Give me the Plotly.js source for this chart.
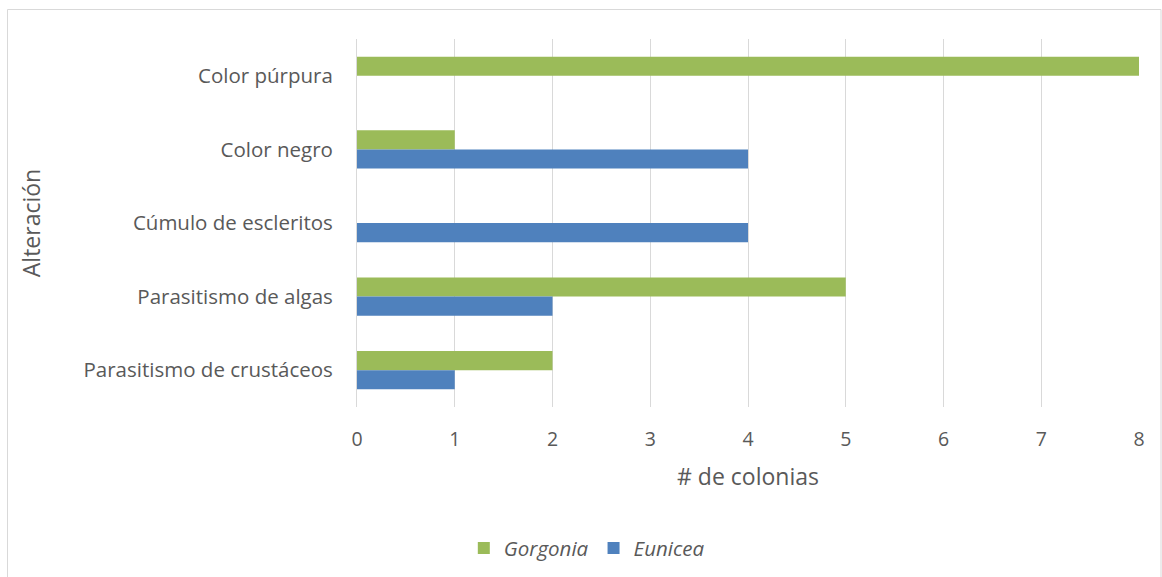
<!DOCTYPE html>
<html>
<head>
<meta charset="utf-8">
<script src="https://cdn.plot.ly/plotly-3.0.1.min.js"></script>
<style>
  html, body { margin: 0; padding: 0; background: #fff; }
  #chart { width: 1162px; height: 577px; }
</style>
</head>
<body>
<div id="chart"></div>
<script>
const categories = ["Color púrpura", "Color negro", "Cúmulo de escleritos", "Parasitismo de algas", "Parasitismo de crustáceos"];
const gorgonia = [8, 1, 0, 5, 2];
const eunicea = [0, 4, 4, 2, 1];
const xTicks = [0, 1, 2, 3, 4, 5, 6, 7, 8];

const W = 1162, H = 577;
const M = { l: 357, r: 23, t: 39, b: 170 };
const pw = W - M.l - M.r, ph = H - M.t - M.b;
const px = v => (v - M.l) / pw;
const py = v => (H - M.b - v) / ph;

const font = "'Open Sans', 'Noto Sans', sans-serif";
const textColor = "#595959";

const traces = [
  { type: "bar", orientation: "h", name: "<i>Gorgonia</i>", y: categories, x: gorgonia,
    marker: { color: "#9BBB59" }, hoverinfo: "x+y" },
  { type: "bar", orientation: "h", name: "<i>Eunicea</i>", y: categories, x: eunicea,
    marker: { color: "#4F81BD" }, hoverinfo: "x+y" }
];

const layout = {
  width: W, height: H,
  margin: M,
  paper_bgcolor: "#fff", plot_bgcolor: "#fff",
  font: { family: font, color: textColor, size: 17 },
  barmode: "group",
  bargap: 0.48,
  bargroupgap: 0,
  showlegend: true,
  legend: {
    orientation: "h", xref: "container", yref: "container",
    x: 0.505, xanchor: "center", y: 0.05, yanchor: "middle",
    font: { family: font, size: 20.5, color: textColor },
    traceorder: "normal", itemwidth: 30
  },
  xaxis: {
    range: [0, 8], tickvals: xTicks, ticktext: xTicks.map(String),
    showgrid: true, gridcolor: "#D9D9D9", gridwidth: 1,
    zeroline: false, showline: false,
    ticks: "outside", ticklen: 15, tickcolor: "rgba(0,0,0,0)",
    tickfont: { size: 19.5, color: textColor },
    title: { text: "# de colonias", font: { size: 23, color: textColor }, standoff: 17 }
  },
  yaxis: {
    type: "category", categoryorder: "array", categoryarray: categories,
    autorange: "reversed",
    showgrid: false, zeroline: false,
    showline: true, linecolor: "#D9D9D9", linewidth: 1,
    ticks: "outside", ticklen: 19, tickcolor: "rgba(0,0,0,0)",
    tickfont: { size: 20.5, color: textColor },
    title: { text: "Alteración", font: { size: 23, color: textColor }, standoff: 36 }
  },
  shapes: [
    { type: "rect", xref: "paper", yref: "paper",
      x0: px(7.5), x1: px(1161), y0: py(9.5), y1: py(578),
      line: { color: "#D9D9D9", width: 1 }, fillcolor: "rgba(0,0,0,0)", layer: "below" }
  ]
};

Plotly.newPlot("chart", traces, layout, { displayModeBar: false, staticPlot: true });
</script>
</body>
</html>
